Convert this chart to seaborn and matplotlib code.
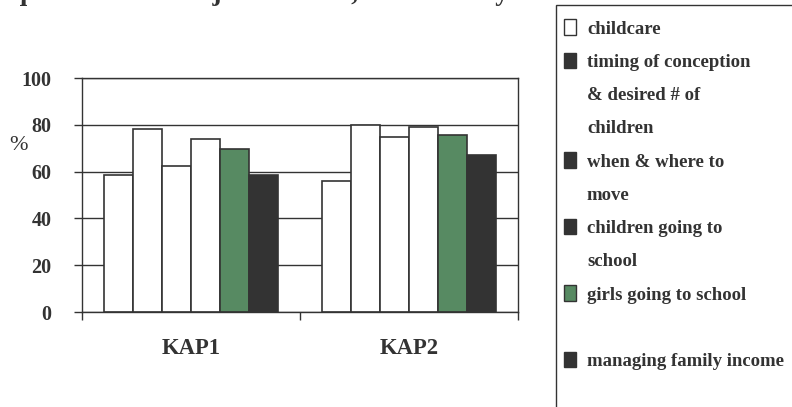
import matplotlib
matplotlib.use('Agg')
import matplotlib.pyplot as plt
from matplotlib.patches import Patch, Rectangle
import seaborn as sns
import pandas as pd

surveys = ['KAP1', 'KAP2']
decisions = ['childcare', 'timing of conception & desired # of children',
             'when & where to move', 'children going to school',
             'girls going to school', 'managing family income']
kap1 = [58.5, 78, 62.5, 74, 69.5, 58.5]
kap2 = [56, 80, 75, 79, 75.5, 67]
yticks = [0, 20, 40, 60, 80, 100]

# legend text is wrapped line by line like the original
legend_lines = [('childcare', 0), ('timing of conception', 1), ('& desired # of', None),
                ('children', None), ('when & where to', 2), ('move', None),
                ('children going to', 3), ('school', None), ('girls going to school', 4),
                ('', None), ('managing family income', 5), ('', None)]

colors = ['white', 'white', 'white', 'white', '#578a62', '#333333']
legend_colors = ['white', '#333333', '#333333', '#333333', '#578a62', '#333333']
dark = '#333333'

plt.rcParams['font.family'] = ['Liberation Serif', 'DejaVu Serif']

df = pd.DataFrame({
    'survey': [s for s in surveys for _ in decisions],
    'decision': decisions * 2,
    'pct': kap1 + kap2,
})

fig = plt.figure(figsize=(7.92, 4.07), dpi=100)
ax = fig.add_axes([82/792, 1-312/407, 436/792, 234/407])

sns.barplot(data=df, x='survey', y='pct', hue='decision', hue_order=decisions,
            palette=colors, saturation=1, edgecolor=dark, linewidth=1.2,
            width=0.8, legend=False, ax=ax, errorbar=None)

ax.set_ylim(0, 100)
ax.set_xlim(-0.5, 1.5)
ax.set_yticks(yticks)
ax.set_yticklabels([str(v) for v in yticks], fontsize=14.5, fontweight='bold', color=dark)
ax.yaxis.grid(True, color=dark, lw=1)
ax.set_axisbelow(True)
ax.set_xticks([0, 1])
ax.set_xticklabels(surveys, fontsize=16.3, fontweight='bold', color=dark)
ax.set_xticks([-0.5, 0.5, 1.5], minor=True)
ax.tick_params(axis='x', which='major', length=0, pad=19)
ax.tick_params(axis='x', which='minor', length=6, width=1, color=dark)
ax.tick_params(axis='y', length=6, width=1, color=dark, pad=16)
ax.set_xlabel('')
ax.set_ylabel('')
for sp in ax.spines.values():
    sp.set_color(dark)
    sp.set_linewidth(1)

fig.text(18/792, 1-145/407, '%', ha='center', va='center', fontsize=16, color=dark)

# title is mostly cut off by the top edge in the original
fig.text(-6/792, 1.0, 'Equal Share in Major Decision, KAP Surveys',
         ha='left', va='baseline', fontsize=19.5, fontweight='bold', color=dark)

handles = []
labels = []
for text, idx in legend_lines:
    if idx is None:
        handles.append(Patch(facecolor='none', edgecolor='none'))
    else:
        handles.append(Patch(facecolor=legend_colors[idx], edgecolor=dark, lw=1))
    labels.append(text)
fig.legend(handles, labels, loc='upper left', bbox_to_anchor=(555/792, 1-10/407),
           frameon=False, borderpad=0, labelspacing=0.8, handlelength=0.6,
           handleheight=0.9, handletextpad=0.6,
           prop={'family': 'Liberation Serif', 'weight': 'bold', 'size': 13.5},
           labelcolor=dark)

fig.patches.append(Rectangle((556/792, -0.05), 0.4, 1.05 - 5/407, transform=fig.transFigure,
                             fill=False, edgecolor=dark, lw=1))

fig.savefig('out.png', dpi=100)
